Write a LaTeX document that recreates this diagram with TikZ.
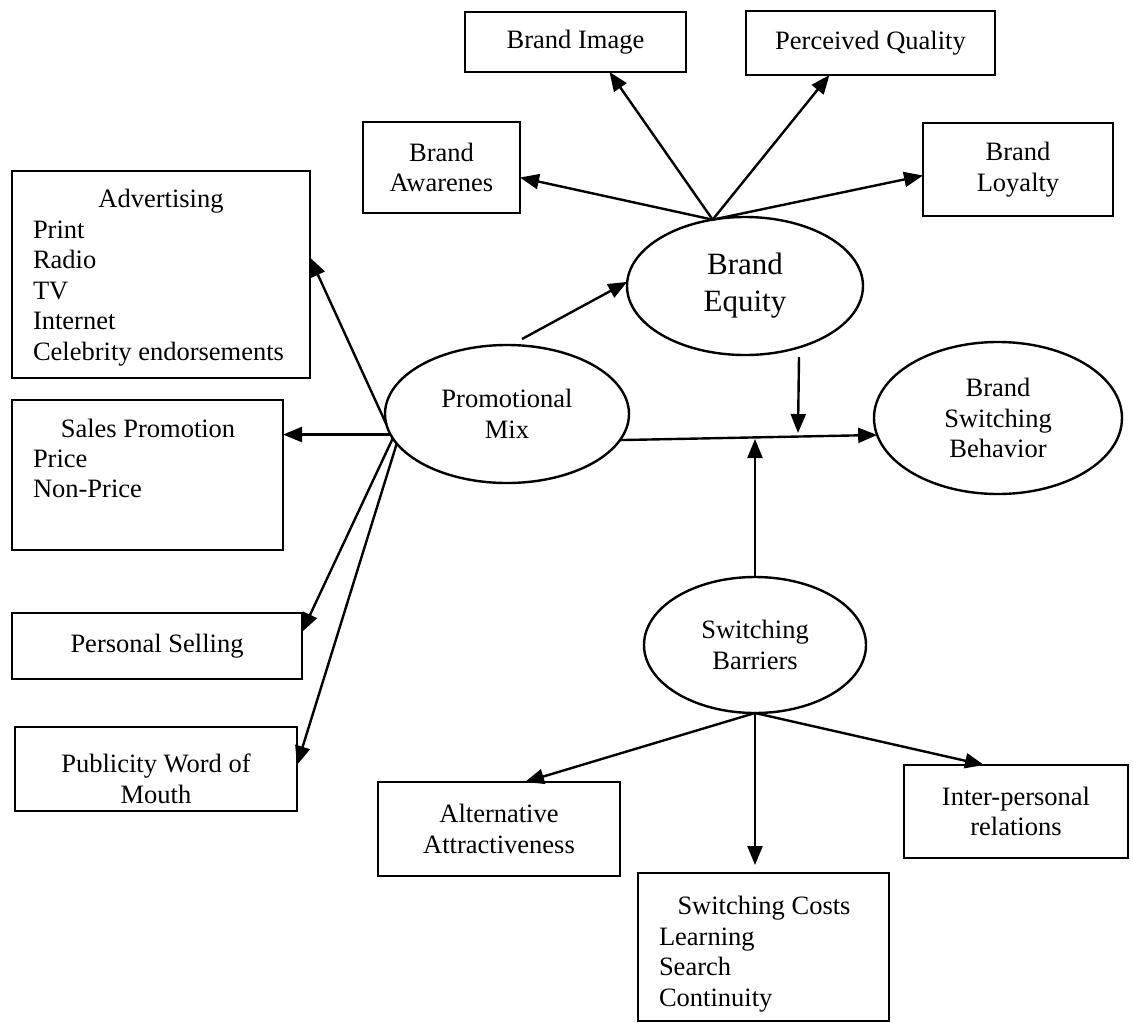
\documentclass[tikz,border=0pt]{standalone}
\usepackage{fontspec}
\setmainfont{Liberation Serif}
\usetikzlibrary{arrows.meta,shapes.geometric}

\begin{document}
\begin{tikzpicture}[x=1pt,y=-1pt,
  every node/.style={font=\fontsize{26.5}{30.5}\selectfont, inner sep=0pt, outer sep=0pt},
  box/.style={draw, line width=2.4pt, anchor=north west, align=center},
  oval/.style={draw, ellipse, line width=2.4pt, align=center},
  arr/.style={line width=2.4pt, -{Triangle[length=19pt,width=15pt]}},
  txt/.style={anchor=base}
]
\fill[white] (0,0) rectangle (1133,1023);
\useasboundingbox (0,0) rectangle (1133,1023);

% central constructs
\node[oval, minimum width=244pt, minimum height=138pt] (PM)  at (507,414) {Promotional\\Mix};
\node[oval, minimum width=236pt, minimum height=138pt,
      font=\fontsize{31}{37}\selectfont] (BE)  at (745,286) {Brand\\Equity};
\node[oval, minimum width=248pt, minimum height=152pt] (BSB) at (998,418) {Brand\\Switching\\Behavior};
\node[oval, minimum width=222pt, minimum height=136pt] (SB)  at (755,645) {Switching\\Barriers};

% brand equity dimensions
\node[box, minimum width=221pt, minimum height=60pt] (img) at (465,12)  {Brand Image};
\node[box, minimum width=249pt, minimum height=64pt] (pq)  at (746,11)  {Perceived Quality};
\node[box, minimum width=157pt, minimum height=91pt] (aw)  at (363,122) {Brand\\Awarenes};
\node[box, minimum width=190pt, minimum height=93pt] (loy) at (923,123) {Brand\\Loyalty};

% promotional mix elements
\node[box, minimum width=298pt, minimum height=207pt] (adv) at (12,171) {};
\node[txt] (advh) at (161,207) {Advertising};
\node[anchor=base west] (advl) at (33,238)
  {\begin{tabular}[t]{@{}l@{}}Print\\Radio\\TV\\Internet\\Celebrity endorsements\end{tabular}};

\node[box, minimum width=271pt, minimum height=150pt] (sp) at (12,400) {};
\node[txt] (sph) at (148,437) {Sales Promotion};
\node[anchor=base west] (spl) at (33,467)
  {\begin{tabular}[t]{@{}l@{}}Price\\Non-Price\end{tabular}};

\node[box, minimum width=290pt, minimum height=66pt] (ps) at (12,613) {Personal Selling};

\node[box, minimum width=282pt, minimum height=84pt] (pub) at (15,727) {};
\node[align=center] (pubt) at (156,779) {Publicity Word of\\Mouth};

% switching barrier elements
\node[box, minimum width=242pt, minimum height=94pt] (alt) at (378,782) {Alternative\\Attractiveness};
\node[box, minimum width=224pt, minimum height=93pt] (ip)  at (904,765) {Inter-personal\\relations};

\node[box, minimum width=251pt, minimum height=148pt] (sc) at (638,873) {};
\node[txt] (sch) at (764,914) {Switching Costs};
\node[anchor=base west] (scl) at (659,945)
  {\begin{tabular}[t]{@{}l@{}}Learning\\Search\\Continuity\end{tabular}};

% free ends of connectors
\coordinate (pmbe)   at (522,339);
\coordinate (bedown) at (799,357);
\coordinate (j1)     at (798,433);
\coordinate (j2)     at (755,439);

% brand equity to its dimensions
\draw[arr] (BE.116) -- ([yshift=-10pt]aw.east);
\draw[arr] (BE.116) -- ([xshift=34pt]img.south);
\draw[arr] (BE.116) -- ([xshift=-41pt]pq.south);
\draw[arr] (BE.116) -- ([yshift=-6pt]loy.west);

% main path
\draw[arr] (pmbe) -- (BE.178);
\draw[arr] (PM.-13) -- (BSB.188);
\draw[arr] (bedown) -- (j1);
\draw[arr] (SB.north) -- (j2);

% switching barriers to their elements
\draw[arr] (SB.south) -- ([xshift=26pt]alt.north);
\draw[arr, shorten >=8pt] (SB.south) -- (SB.south |- sc.north);
\draw[arr] (SB.south) -- ([xshift=-32pt]ip.north);

% promotional mix to its elements
\draw[arr] (PM.185) -- ([yshift=17pt]adv.east);
\draw[arr] (PM.190) -- (PM.190 -| sp.east);
\draw[arr] (PM.192) -- ([yshift=14pt]ps.east);
\draw[arr] (PM.195) -- ([yshift=4pt]pub.east);
\end{tikzpicture}
\end{document}
